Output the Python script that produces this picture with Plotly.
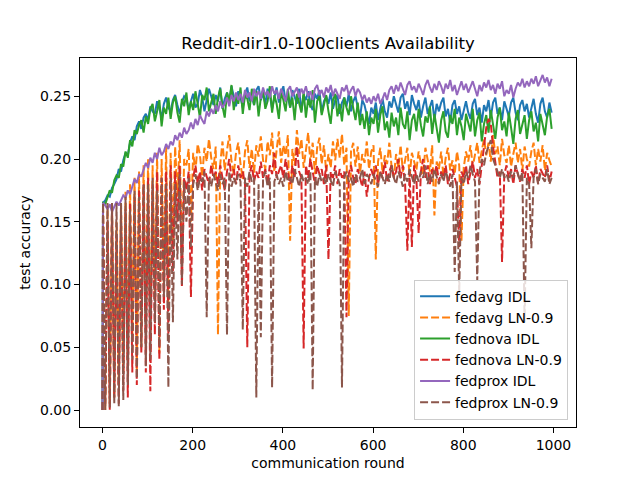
import plotly.graph_objects as go

# communication rounds: the evaluation before training, then every 5th round
rounds = [0] + list(range(1, 1000, 5))

fedavg_idl = [
    0.000,
    0.165, 0.167, 0.171, 0.170, 0.177, 0.180, 0.184, 0.192, 0.190, 0.199,
    0.205, 0.203, 0.213, 0.218, 0.215, 0.226, 0.230, 0.224, 0.233, 0.236,
    0.231, 0.242, 0.238, 0.236, 0.246, 0.240, 0.233, 0.244, 0.249, 0.241,
    0.238, 0.247, 0.251, 0.243, 0.236, 0.245, 0.250, 0.248, 0.239, 0.246,
    0.252, 0.241, 0.244, 0.255, 0.249, 0.238, 0.247, 0.256, 0.250, 0.243,
    0.251, 0.246, 0.257, 0.240, 0.248, 0.253, 0.245, 0.258, 0.250, 0.242,
    0.254, 0.249, 0.241, 0.252, 0.257, 0.246, 0.250, 0.243, 0.255, 0.258,
    0.247, 0.252, 0.244, 0.256, 0.251, 0.240, 0.249, 0.257, 0.245, 0.253,
    0.258, 0.246, 0.250, 0.241, 0.255, 0.249, 0.244, 0.256, 0.238, 0.251,
    0.247, 0.254, 0.243, 0.239, 0.252, 0.248, 0.255, 0.237, 0.246, 0.250,
    0.244, 0.253, 0.240, 0.247, 0.251, 0.236, 0.245, 0.249, 0.242, 0.252,
    0.238, 0.246, 0.250, 0.241, 0.233, 0.247, 0.243, 0.235, 0.228, 0.241,
    0.236, 0.245, 0.231, 0.240, 0.248, 0.238, 0.233, 0.246, 0.241, 0.250,
    0.243, 0.237, 0.249, 0.252, 0.240, 0.246, 0.235, 0.251, 0.244, 0.239,
    0.247, 0.233, 0.242, 0.249, 0.236, 0.241, 0.247, 0.231, 0.244, 0.238,
    0.245, 0.249, 0.234, 0.240, 0.229, 0.243, 0.247, 0.236, 0.242, 0.231,
    0.240, 0.246, 0.237, 0.232, 0.244, 0.248, 0.235, 0.241, 0.229, 0.243,
    0.238, 0.247, 0.233, 0.245, 0.249, 0.236, 0.241, 0.231, 0.246, 0.240,
    0.234, 0.245, 0.249, 0.237, 0.231, 0.243, 0.247, 0.238, 0.244, 0.233,
    0.241, 0.248, 0.236, 0.229, 0.244, 0.249, 0.238, 0.233, 0.245, 0.237,
]

fednova_idl = [
    0.000,
    0.165, 0.164, 0.169, 0.175, 0.173, 0.183, 0.187, 0.185, 0.196, 0.194,
    0.206, 0.201, 0.215, 0.210, 0.223, 0.220, 0.227, 0.231, 0.221, 0.234,
    0.228, 0.240, 0.244, 0.230, 0.238, 0.247, 0.226, 0.241, 0.236, 0.249,
    0.232, 0.245, 0.250, 0.237, 0.229, 0.248, 0.242, 0.253, 0.235, 0.246,
    0.239, 0.254, 0.244, 0.233, 0.251, 0.247, 0.257, 0.238, 0.245, 0.252,
    0.236, 0.249, 0.256, 0.242, 0.233, 0.253, 0.246, 0.259, 0.239, 0.250,
    0.244, 0.257, 0.236, 0.251, 0.248, 0.239, 0.256, 0.243, 0.254, 0.234,
    0.249, 0.255, 0.240, 0.246, 0.258, 0.237, 0.251, 0.244, 0.232, 0.253,
    0.247, 0.238, 0.256, 0.241, 0.249, 0.231, 0.252, 0.245, 0.237, 0.254,
    0.233, 0.248, 0.241, 0.255, 0.229, 0.246, 0.250, 0.235, 0.243, 0.251,
    0.238, 0.228, 0.247, 0.252, 0.234, 0.244, 0.230, 0.249, 0.241, 0.235,
    0.250, 0.239, 0.231, 0.245, 0.227, 0.236, 0.224, 0.238, 0.219, 0.233,
    0.228, 0.240, 0.221, 0.235, 0.242, 0.223, 0.230, 0.217, 0.237, 0.226,
    0.233, 0.219, 0.241, 0.228, 0.224, 0.238, 0.215, 0.231, 0.236, 0.222,
    0.240, 0.227, 0.218, 0.234, 0.229, 0.242, 0.220, 0.236, 0.225, 0.213,
    0.231, 0.238, 0.222, 0.217, 0.235, 0.228, 0.240, 0.219, 0.233, 0.226,
    0.215, 0.236, 0.229, 0.222, 0.240, 0.218, 0.231, 0.237, 0.214, 0.228,
    0.235, 0.221, 0.239, 0.226, 0.216, 0.233, 0.241, 0.223, 0.230, 0.218,
    0.237, 0.225, 0.212, 0.232, 0.239, 0.220, 0.228, 0.235, 0.216, 0.231,
    0.238, 0.222, 0.229, 0.214, 0.236, 0.227, 0.219, 0.234, 0.240, 0.224,
]

fedprox_idl = [
    0.000,
    0.165, 0.163, 0.160, 0.164, 0.158, 0.162, 0.166, 0.163, 0.167, 0.171,
    0.169, 0.175, 0.172, 0.179, 0.184, 0.181, 0.188, 0.186, 0.192, 0.197,
    0.193, 0.201, 0.197, 0.205, 0.200, 0.209, 0.203, 0.206, 0.212, 0.208,
    0.214, 0.211, 0.219, 0.215, 0.221, 0.217, 0.225, 0.220, 0.223, 0.229,
    0.224, 0.232, 0.227, 0.235, 0.231, 0.228, 0.238, 0.234, 0.240, 0.236,
    0.243, 0.238, 0.246, 0.241, 0.244, 0.249, 0.242, 0.251, 0.246, 0.253,
    0.247, 0.252, 0.245, 0.255, 0.249, 0.253, 0.246, 0.256, 0.250, 0.254,
    0.248, 0.257, 0.251, 0.254, 0.249, 0.258, 0.252, 0.255, 0.248, 0.256,
    0.251, 0.246, 0.255, 0.258, 0.250, 0.253, 0.257, 0.249, 0.256, 0.252,
    0.258, 0.250, 0.254, 0.247, 0.256, 0.259, 0.251, 0.255, 0.249, 0.257,
    0.253, 0.259, 0.250, 0.256, 0.252, 0.248, 0.257, 0.254, 0.259, 0.251,
    0.255, 0.258, 0.250, 0.256, 0.253, 0.247, 0.251, 0.245, 0.249, 0.244,
    0.250, 0.246, 0.252, 0.244, 0.248, 0.253, 0.247, 0.255, 0.258, 0.252,
    0.259, 0.254, 0.261, 0.256, 0.251, 0.259, 0.262, 0.255, 0.258, 0.253,
    0.260, 0.256, 0.251, 0.259, 0.263, 0.257, 0.253, 0.260, 0.255, 0.262,
    0.258, 0.252, 0.260, 0.256, 0.263, 0.254, 0.259, 0.251, 0.257, 0.262,
    0.255, 0.260, 0.253, 0.258, 0.262, 0.256, 0.250, 0.259, 0.254, 0.261,
    0.257, 0.263, 0.255, 0.259, 0.252, 0.260, 0.256, 0.262, 0.250, 0.255,
    0.252, 0.259, 0.249, 0.256, 0.261, 0.258, 0.264, 0.257, 0.262, 0.258,
    0.264, 0.260, 0.266, 0.258, 0.263, 0.267, 0.261, 0.265, 0.258, 0.264,
]

fedavg_ln = [
    0.000,
    0.165, 0.000, 0.160, 0.005, 0.165, 0.010, 0.150, 0.020, 0.165, 0.030,
    0.175, 0.040, 0.180, 0.060, 0.185, 0.030, 0.190, 0.050, 0.195, 0.070,
    0.200, 0.060, 0.195, 0.090, 0.205, 0.045, 0.200, 0.100, 0.210, 0.080,
    0.205, 0.130, 0.210, 0.170, 0.215, 0.120, 0.200, 0.195, 0.208, 0.150,
    0.205, 0.190, 0.212, 0.203, 0.186, 0.209, 0.198, 0.216, 0.201, 0.192,
    0.210, 0.060, 0.196, 0.214, 0.191, 0.207, 0.219, 0.198, 0.188, 0.205,
    0.213, 0.196, 0.184, 0.206, 0.215, 0.193, 0.208, 0.189, 0.211, 0.202,
    0.218, 0.199, 0.192, 0.214, 0.203, 0.221, 0.190, 0.207, 0.222, 0.197,
    0.211, 0.203, 0.219, 0.135, 0.208, 0.195, 0.223, 0.204, 0.216, 0.193,
    0.207, 0.221, 0.197, 0.213, 0.188, 0.209, 0.217, 0.196, 0.211, 0.190,
    0.204, 0.193, 0.214, 0.199, 0.216, 0.201, 0.220, 0.195, 0.209, 0.075,
    0.206, 0.213, 0.194, 0.210, 0.189, 0.204, 0.197, 0.214, 0.192, 0.206,
    0.211, 0.120, 0.198, 0.209, 0.189, 0.203, 0.196, 0.213, 0.194, 0.186,
    0.204, 0.193, 0.211, 0.190, 0.199, 0.209, 0.186, 0.205, 0.198, 0.191,
    0.206, 0.195, 0.187, 0.209, 0.199, 0.190, 0.211, 0.155, 0.198, 0.192,
    0.206, 0.186, 0.201, 0.209, 0.191, 0.199, 0.188, 0.206, 0.195, 0.135,
    0.193, 0.206, 0.198, 0.211, 0.194, 0.204, 0.213, 0.197, 0.208, 0.216,
    0.203, 0.213, 0.198, 0.219, 0.204, 0.210, 0.195, 0.216, 0.203, 0.197,
    0.211, 0.194, 0.204, 0.213, 0.197, 0.208, 0.191, 0.210, 0.200, 0.194,
    0.206, 0.213, 0.195, 0.208, 0.198, 0.211, 0.191, 0.205, 0.199, 0.194,
]

fednova_ln = [
    0.000,
    0.165, 0.005, 0.150, 0.000, 0.160, 0.010, 0.140, 0.005, 0.155, 0.015,
    0.160, 0.010, 0.165, 0.030, 0.170, 0.020, 0.175, 0.045, 0.180, 0.030,
    0.185, 0.015, 0.180, 0.060, 0.190, 0.040, 0.185, 0.080, 0.190, 0.060,
    0.195, 0.110, 0.190, 0.150, 0.195, 0.098, 0.185, 0.175, 0.190, 0.090,
    0.185, 0.195, 0.180, 0.190, 0.175, 0.192, 0.185, 0.180, 0.195, 0.185,
    0.190, 0.180, 0.195, 0.185, 0.175, 0.190, 0.200, 0.185, 0.192, 0.180,
    0.195, 0.185, 0.190, 0.180, 0.050, 0.188, 0.195, 0.182, 0.190, 0.185,
    0.198, 0.185, 0.192, 0.180, 0.195, 0.188, 0.205, 0.185, 0.190, 0.195,
    0.185, 0.200, 0.190, 0.180, 0.195, 0.185, 0.210, 0.190, 0.185, 0.049,
    0.195, 0.185, 0.200, 0.190, 0.180, 0.195, 0.188, 0.192, 0.180, 0.195,
    0.120, 0.190, 0.185, 0.195, 0.180, 0.192, 0.185, 0.190, 0.074, 0.188,
    0.195, 0.185, 0.180, 0.192, 0.185, 0.178, 0.190, 0.170, 0.185, 0.192,
    0.185, 0.195, 0.180, 0.190, 0.185, 0.198, 0.182, 0.190, 0.195, 0.185,
    0.190, 0.200, 0.185, 0.195, 0.180, 0.127, 0.190, 0.130, 0.195, 0.185,
    0.141, 0.190, 0.200, 0.185, 0.195, 0.180, 0.192, 0.188, 0.195, 0.182,
    0.190, 0.185, 0.195, 0.180, 0.188, 0.192, 0.185, 0.178, 0.130, 0.190,
    0.185, 0.195, 0.180, 0.190, 0.198, 0.185, 0.192, 0.180, 0.195, 0.205,
    0.225, 0.232, 0.228, 0.210, 0.195, 0.185, 0.190, 0.118, 0.188, 0.195,
    0.185, 0.192, 0.180, 0.195, 0.188, 0.182, 0.192, 0.185, 0.195, 0.180,
    0.190, 0.185, 0.195, 0.180, 0.192, 0.188, 0.185, 0.195, 0.182, 0.190,
]

fedprox_ln = [
    0.000,
    0.165, 0.000, 0.165, 0.002, 0.165, 0.005, 0.165, 0.003, 0.165, 0.008,
    0.170, 0.020, 0.160, 0.040, 0.175, 0.025, 0.170, 0.050, 0.180, 0.035,
    0.180, 0.040, 0.185, 0.070, 0.175, 0.050, 0.185, 0.090, 0.180, 0.018,
    0.185, 0.070, 0.180, 0.120, 0.188, 0.100, 0.182, 0.150, 0.185, 0.130,
    0.180, 0.188, 0.175, 0.185, 0.182, 0.190, 0.074, 0.185, 0.178, 0.188,
    0.182, 0.175, 0.188, 0.180, 0.185, 0.060, 0.190, 0.178, 0.185, 0.180,
    0.188, 0.182, 0.064, 0.185, 0.178, 0.190, 0.182, 0.185, 0.010, 0.180,
    0.058, 0.185, 0.190, 0.178, 0.185, 0.018, 0.182, 0.188, 0.180, 0.185,
    0.178, 0.190, 0.182, 0.185, 0.180, 0.192, 0.185, 0.178, 0.188, 0.182,
    0.185, 0.180, 0.190, 0.016, 0.185, 0.178, 0.188, 0.182, 0.185, 0.180,
    0.188, 0.182, 0.178, 0.190, 0.185, 0.180, 0.018, 0.185, 0.190, 0.182,
    0.185, 0.178, 0.188, 0.182, 0.185, 0.192, 0.180, 0.188, 0.185, 0.180,
    0.188, 0.182, 0.178, 0.190, 0.185, 0.180, 0.188, 0.182, 0.195, 0.185,
    0.180, 0.190, 0.185, 0.178, 0.188, 0.182, 0.192, 0.185, 0.180, 0.188,
    0.182, 0.190, 0.185, 0.195, 0.180, 0.188, 0.182, 0.192, 0.185, 0.180,
    0.188, 0.182, 0.190, 0.185, 0.178, 0.188, 0.110, 0.182, 0.093, 0.185,
    0.180, 0.190, 0.185, 0.195, 0.188, 0.182, 0.103, 0.190, 0.200, 0.195,
    0.205, 0.210, 0.215, 0.200, 0.195, 0.190, 0.185, 0.192, 0.185, 0.188,
    0.182, 0.190, 0.185, 0.195, 0.188, 0.182, 0.190, 0.070, 0.185, 0.180,
    0.129, 0.185, 0.192, 0.180, 0.188, 0.185, 0.182, 0.192, 0.180, 0.185,
]

series = [
    ("fedavg IDL", fedavg_idl, "#1f77b4", "solid"),
    ("fedavg LN-0.9", fedavg_ln, "#ff7f0e", "8px,3px"),
    ("fednova IDL", fednova_idl, "#2ca02c", "solid"),
    ("fednova LN-0.9", fednova_ln, "#d62728", "8px,3px"),
    ("fedprox IDL", fedprox_idl, "#9467bd", "solid"),
    ("fedprox LN-0.9", fedprox_ln, "#8c564b", "8px,3px"),
]

fig = go.Figure()
for name, acc, color, dash in series:
    fig.add_trace(go.Scatter(
        x=rounds, y=acc, mode="lines", name=name,
        line=dict(color=color, width=2, dash=dash),
    ))

axis_style = dict(
    showgrid=False, zeroline=False,
    showline=True, linecolor="black", linewidth=1, mirror=True,
    ticks="outside", ticklen=5, tickcolor="black",
    tickfont=dict(size=14, color="black"),
)

# the page puts the figure 8px in from the top left corner, margins allow for it
fig.update_layout(
    width=640, height=480,
    paper_bgcolor="white", plot_bgcolor="white",
    font=dict(family="DejaVu Sans", color="black"),
    margin=dict(l=72, r=72, t=50, b=61),
    title=dict(text="Reddit-dir1.0-100clients Availability",
               x=0.5, xref="paper", y=1 - 35 / 480, yanchor="middle",
               font=dict(size=16.5)),
    xaxis=dict(axis_style, range=[-50, 1050], tickvals=[0, 200, 400, 600, 800, 1000],
               title=dict(text="communication round", font=dict(size=14), standoff=6)),
    yaxis=dict(axis_style, range=[-0.0135, 0.2805], tickvals=[0, 0.05, 0.1, 0.15, 0.2, 0.25],
               tickformat=".2f",
               title=dict(text="test accuracy", font=dict(size=14), standoff=6)),
    legend=dict(x=0.984, y=0.02, xanchor="right", yanchor="bottom",
                bgcolor="rgba(255,255,255,0.8)", bordercolor="#cccccc", borderwidth=1,
                font=dict(size=14), tracegroupgap=0),
)

fig.write_html("out.html")
